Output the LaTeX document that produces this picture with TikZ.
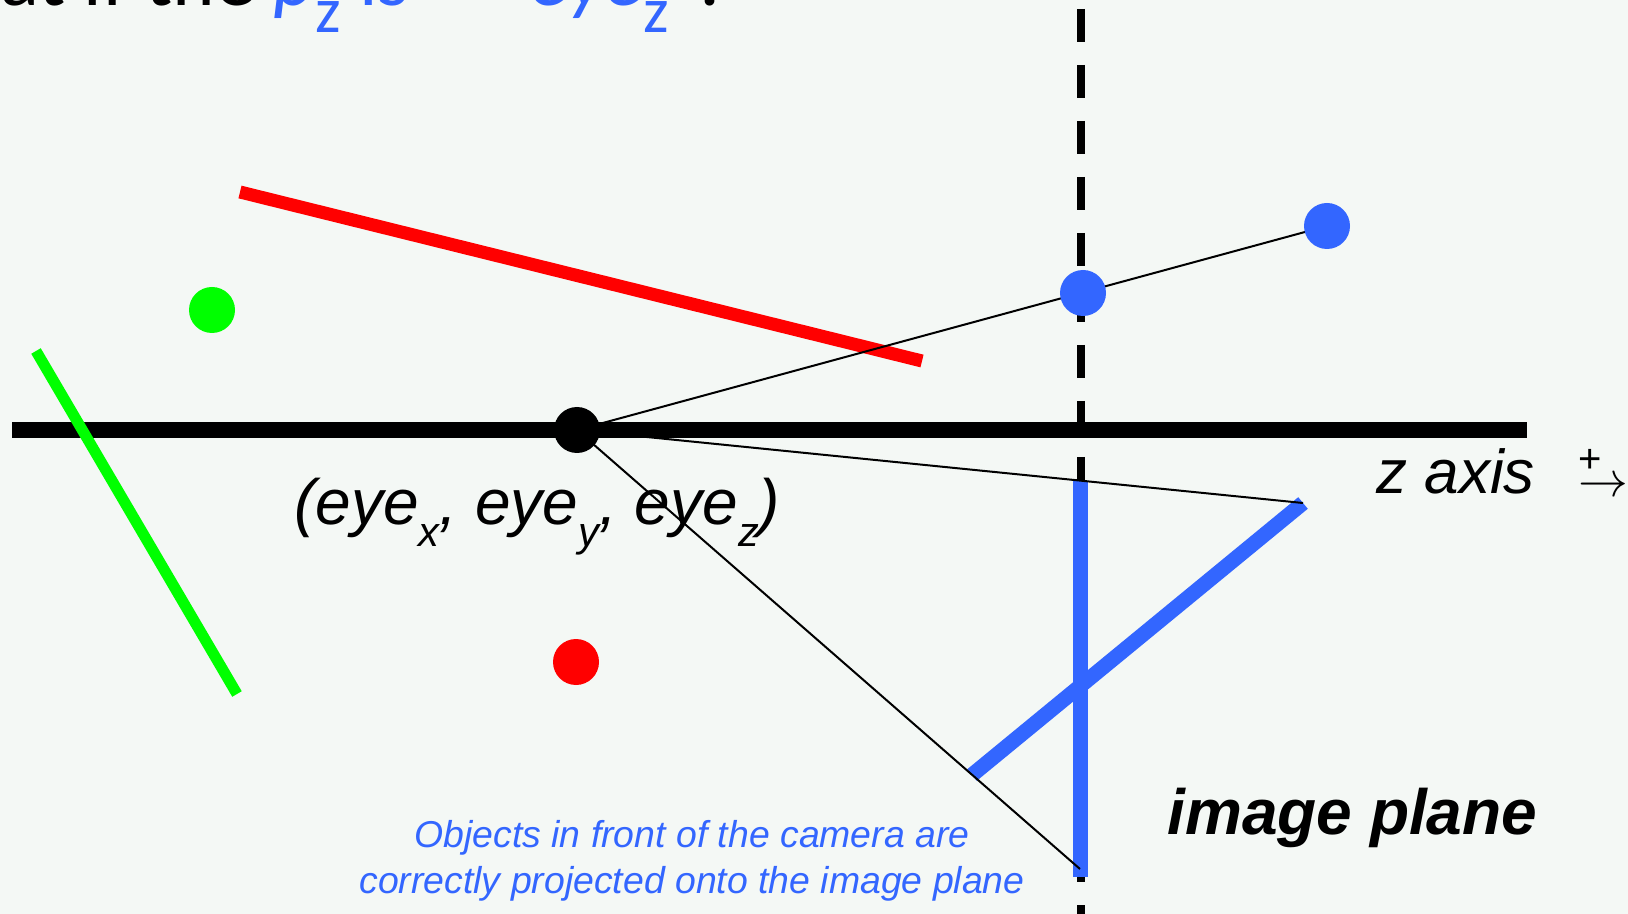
\documentclass[tikz,border=0pt]{standalone}
\usepackage{fontspec}
\setmainfont{Liberation Sans}
\newfontfamily\titlefont{Carlito}
\usetikzlibrary{positioning}
\definecolor{sfondo}{HTML}{F4F8F5}
\definecolor{blu}{HTML}{3366FF}
\definecolor{rosso}{HTML}{FF0000}
\definecolor{verde}{HTML}{00FF00}
% pedice abbassato: \pedice{abbassamento}{scala}{testo}
\newcommand{\pedice}[3]{\raisebox{-#1}{\scalebox{#2}{#3}}}
\tikzset{
	% asse z
	asse/.style={line width=8pt},
	% piano immagine (tratteggiato)
	piano/.style={line width=4pt, dash pattern=on 16.5pt off 11.5pt},
	% punto pieno
	punto/.style={circle, fill=#1, inner sep=0pt, minimum size=23pt},
	% segmento colorato
	segmento/.style={line width=6.5pt, #1},
	% raggio di proiezione
	raggio/.style={line width=1pt},
	% etichette
	etichetta/.style={inner sep=0pt, font=\itshape\fontsize{32}{36}\selectfont},
	titolo/.style={inner sep=0pt, font=\titlefont\fontsize{40.5}{48}\selectfont},
}

\begin{document}
\begin{tikzpicture}[x=0.5pt, y=-0.5pt]
    \useasboundingbox (0,0) rectangle (1628,914);
    \clip (0,0) rectangle (1628,914);
    \fill[sfondo] (0,0) rectangle (1628,914);
    % titolo, tagliato dal bordo
    \node[titolo, anchor=base west] (tit) at (0,6) {\llap{Wh}at if the {\color{blu}\textit{p}\pedice{0.33em}{0.8}{z} is\hspace{11pt} < \hspace{11pt}\textit{eye}\pedice{0.33em}{0.8}{z}}\hspace{12pt}?};
    % punti della scena
    \coordinate (eye) at (577,430);
    \coordinate (pvicino) at (1083,293);
    \coordinate (plontano) at (1327,226);
    \coordinate (assesx) at (12,430);
    \coordinate (assedx) at (1527,430);
    \coordinate (pianosu) at (1081,9);
    \coordinate (pianogiu) at (1081,914);
    \coordinate (rossoA) at (240,192);
    \coordinate (rossoB) at (922,361);
    \coordinate (verdeA) at (36,351);
    \coordinate (verdeB) at (237,694);
    \coordinate (bluA) at (1303,503);
    \coordinate (bluB) at (972,775);
    \coordinate (proiA) at (1080,481);
    \coordinate (proiB) at (1080,877);
    \coordinate (raggioB) at (1080,869);
    \draw[piano] (pianosu) -- (pianogiu);
    \draw[asse] (assesx) -- (assedx);
    \draw[segmento=rosso] (rossoA) -- (rossoB);
    \draw[segmento=verde, line width=5.5pt] (verdeA) -- (verdeB);
    \draw[segmento=blu, line width=7.5pt] (bluA) -- (bluB);
    \draw[segmento=blu, line width=7.5pt] (proiA) -- (proiB);
    \draw[raggio] (eye) -- (plontano);
    \draw[raggio] (eye) -- (bluA);
    \draw[raggio] (eye) -- (raggioB);
    \node[punto=black] (occhio) at (eye) {};
    \node[punto=blu] (pv) at (pvicino) {};
    \node[punto=blu] (pl) at (plontano) {};
    \node[punto=verde] (pverde) at (212,310) {};
    \node[punto=rosso] (prosso) at (576,662) {};
    % testi
    \node[etichetta, anchor=base west] (eyelab) at (294,524) {(eye\pedice{0.35em}{0.65}{x}, eye\pedice{0.35em}{0.65}{y}, eye\pedice{0.35em}{0.65}{z})};
    \node[etichetta, font=\itshape\fontsize{31}{36}\selectfont, anchor=base west] (zlab) at (1376,494) {z axis};
    \node[inner sep=0pt, font=\fontsize{24}{24}\selectfont, anchor=base west] (verso) at (1578,496) {\rlap{\raisebox{12pt}{\fontsize{20}{20}\selectfont+}}$\rightarrow$};
    \node[etichetta, font=\bfseries\itshape\fontsize{32}{36}\selectfont, anchor=base west] (pianolab) at (1167,834) {image plane};
    \node[inner sep=0pt, align=center, text=blu, font=\itshape\fontsize{18.7}{23}\selectfont, anchor=base] (nota) at (692,893) {Objects in front of the camera are\\correctly projected onto the image plane};
\end{tikzpicture}
\end{document}
